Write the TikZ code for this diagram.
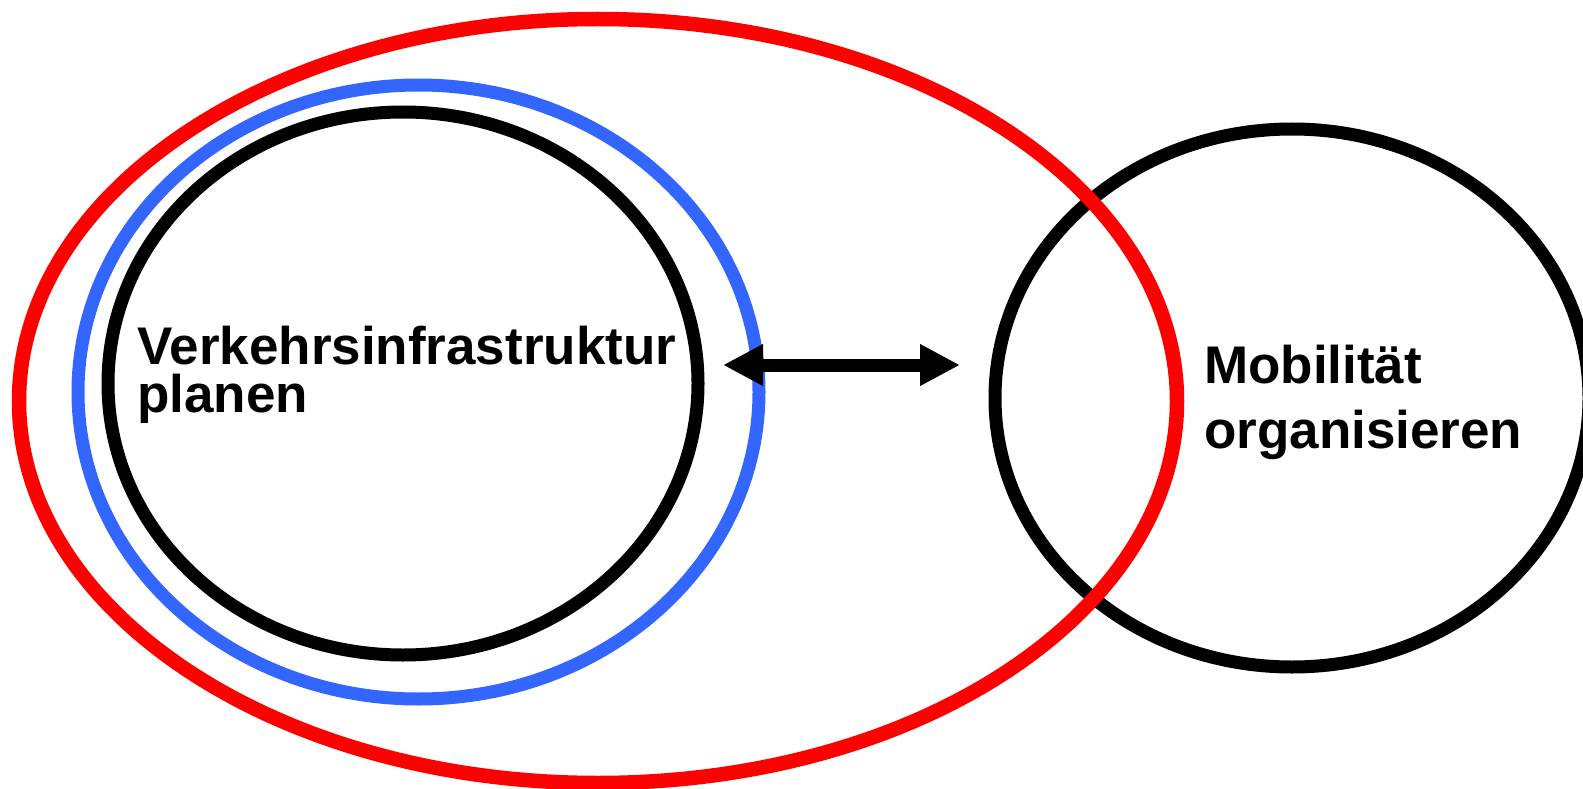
\documentclass[tikz,border=0pt]{standalone}
\usepackage{fontspec}
\setmainfont{Liberation Sans}
\usetikzlibrary{shapes.geometric,arrows.meta}
\definecolor{myred}{HTML}{FF0000}
\definecolor{myblue}{HTML}{3366FF}
\begin{document}
\begin{tikzpicture}[x=1pt,y=-1pt,
  ring/.style={ellipse,draw,line width=13pt,inner sep=0pt,outer sep=0pt},
  lbl/.style={anchor=base west,inner sep=0pt,align=left}]
\useasboundingbox (0,0) rectangle (1583,789);
\node[ring,draw=black,minimum width=594pt,minimum height=538pt] (mob) at (1292,398) {};
\node[ring,draw=myred,line width=14.5pt,minimum width=1158pt,minimum height=764pt] (outer) at (598,401) {};
\node[ring,draw=myblue,minimum width=681pt,minimum height=614pt] (mid) at (418.5,392) {};
\node[ring,draw=black,minimum width=590pt,minimum height=543pt] (inner) at (403,383.5) {};
\coordinate (al) at (723,365);
\coordinate (ar) at (960,365);
\draw[line width=13pt,{Triangle[length=40pt,width=39pt]}-{Triangle[length=40pt,width=39pt]}] (al) -- (ar);
\node[lbl,font=\fontsize{53}{48}\selectfont\bfseries] (t1) at (137,412) {Verkehrsinfrastruktur\\planen};
\node[lbl,font=\fontsize{53}{65}\selectfont\bfseries] (t3) at (1204,448) {Mobilität\\organisieren};
\end{tikzpicture}
\end{document}
